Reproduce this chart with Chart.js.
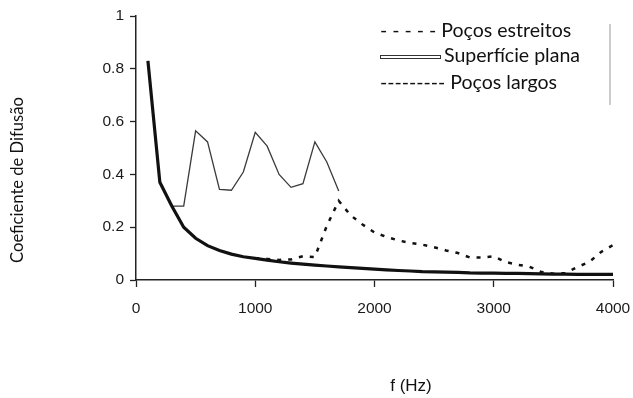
<!DOCTYPE html>
<html>
<head>
<meta charset="utf-8">
<script src="https://cdn.jsdelivr.net/npm/chart.js@4.4.0/dist/chart.umd.min.js"></script>
<style>
  body { margin: 0; background: #fff; }
  #wrap { width: 633px; height: 398px; }
</style>
</head>
<body>
<div id="wrap"><canvas id="grafico"></canvas></div>
<script>
// frequencias (Hz) e coeficientes
const freqPlana = [100, 200, 300, 400, 500, 600, 700, 800, 900, 1000,
  1100, 1200, 1300, 1400, 1500, 1600, 1700, 1800, 1900, 2000,
  2100, 2200, 2300, 2400, 2500, 2600, 2700, 2800, 2900, 3000,
  3100, 3200, 3300, 3400, 3500, 3600, 3700, 3800, 3900, 4000];
const valPlana = [0.83, 0.37, 0.28, 0.20, 0.158, 0.13, 0.112, 0.098, 0.088, 0.082,
  0.075, 0.069, 0.064, 0.060, 0.056, 0.053, 0.050, 0.047, 0.044, 0.041,
  0.038, 0.036, 0.034, 0.032, 0.031, 0.030, 0.029, 0.027, 0.026, 0.026,
  0.025, 0.025, 0.024, 0.023, 0.022, 0.022, 0.021, 0.021, 0.021, 0.021];

const freqLargos = [100, 200, 300, 400, 500, 600, 700, 800, 900, 1000,
  1100, 1200, 1300, 1400, 1500, 1600, 1700];
const valLargos = [0.83, 0.37, 0.28, 0.28, 0.565, 0.523, 0.343, 0.34, 0.409, 0.559,
  0.507, 0.40, 0.351, 0.365, 0.523, 0.447, 0.337];

const freqEstreitos = [1000, 1100, 1200, 1300, 1400, 1500, 1600, 1700, 1800, 1900,
  2000, 2100, 2200, 2300, 2400, 2500, 2600, 2700, 2800, 2900,
  3000, 3100, 3200, 3300, 3400, 3500, 3600, 3700, 3800, 3900, 4000];
const valEstreitos = [0.082, 0.08, 0.076, 0.078, 0.09, 0.087, 0.205, 0.30, 0.245, 0.21,
  0.18, 0.163, 0.15, 0.14, 0.134, 0.124, 0.112, 0.102, 0.085, 0.085,
  0.09, 0.068, 0.058, 0.05, 0.03, 0.024, 0.026, 0.049, 0.068, 0.106, 0.132];

const xTicks = [0, 1000, 2000, 3000, 4000];
const yTicks = [0, 0.2, 0.4, 0.6, 0.8, 1];

const tituloY = 'Coeficiente de Difusão';
const tituloX = 'f (Hz)';
const legendaPrefixos = ['- - - - - ', '', '--------- '];

const pares = (xs, ys) => xs.map((x, i) => ({ x: x, y: ys[i] }));

// acha o tamanho da fonte que ocupa a largura pedida
function tamanhoPara(ctx, texto, largura, familia) {
  ctx.font = '20px ' + familia;
  return 20 * largura / ctx.measureText(texto).width;
}

const decoracao = {
  id: 'decoracao',
  afterDraw(chart) {
    const ctx = chart.ctx;
    const ds = chart.data.datasets;
    ctx.save();
    ctx.fillStyle = '#111';

    // titulo do eixo Y
    const fy = tamanhoPara(ctx, tituloY, 166, 'Lato');
    ctx.save();
    ctx.translate(18, 180);
    ctx.rotate(-Math.PI / 2);
    ctx.font = fy + 'px Lato';
    ctx.textAlign = 'center';
    ctx.textBaseline = 'middle';
    ctx.fillText(tituloY, 0, 0);
    ctx.restore();

    // titulo do eixo X
    ctx.font = '17px "Liberation Sans", Arial';
    ctx.textAlign = 'center';
    ctx.textBaseline = 'middle';
    ctx.fillText(tituloX, 411, 386);

    // legenda feita de texto
    const fl = tamanhoPara(ctx, 'Poços estreitos', 130, 'Lato');
    ctx.font = fl + 'px Lato';
    ctx.textAlign = 'left';
    ctx.textBaseline = 'alphabetic';
    ctx.fillText(legendaPrefixos[0] + ds[2].label, 380, 36.5);
    ctx.fillText(legendaPrefixos[2] + ds[1].label, 380, 89);
    ctx.fillText(ds[0].label, 444, 62);
    ctx.strokeStyle = '#333';
    ctx.lineWidth = 1;
    ctx.strokeRect(380.5, 55.5, 60, 3);

    // linha cinza a direita da legenda
    ctx.strokeStyle = '#bbb';
    ctx.lineWidth = 1.5;
    ctx.beginPath();
    ctx.moveTo(610, 24);
    ctx.lineTo(610, 105);
    ctx.stroke();
    ctx.restore();
  }
};

const ctx = document.getElementById('grafico').getContext('2d');
const grafico = new Chart(ctx, {
  type: 'line',
  data: {
    datasets: [{
      label: 'Superfície plana',
      data: pares(freqPlana, valPlana),
      borderColor: '#111',
      borderWidth: 3.2,
      pointRadius: 0,
      tension: 0,
    }, {
      label: 'Poços largos',
      data: pares(freqLargos, valLargos),
      borderColor: '#3a3a3a',
      borderWidth: 1.3,
      pointRadius: 0,
      tension: 0,
    }, {
      label: 'Poços estreitos',
      data: pares(freqEstreitos, valEstreitos),
      borderColor: '#111',
      borderWidth: 2.5,
      borderDash: [4, 7],
      pointRadius: 0,
      tension: 0,
    }],
  },
  options: {
    responsive: true,
    maintainAspectRatio: false,
    animation: false,
    layout: { padding: { top: 16, right: 20, left: 0, bottom: 0 } },
    plugins: {
      legend: { display: false },
      tooltip: { enabled: false },
    },
    scales: {
      x: {
        type: 'linear',
        min: 0,
        max: 4000,
        afterFit: s => { s.height = 118; s.paddingRight = 10; },
        afterBuildTicks: s => { s.ticks = xTicks.map(v => ({ value: v })); },
        grid: { drawOnChartArea: false, tickLength: 7, color: '#222', tickWidth: 1.3 },
        border: { color: '#222', width: 1.5 },
        ticks: {
          padding: 12,
          color: '#1a1a1a',
          font: { family: '"Liberation Sans", Arial', size: 15.5 },
          maxRotation: 0,
          callback: v => String(v),
        },
      },
      y: {
        min: 0,
        max: 1,
        afterFit: s => { s.width = 136; },
        afterBuildTicks: s => { s.ticks = yTicks.map(v => ({ value: v })); },
        grid: { drawOnChartArea: false, tickLength: 6, color: '#222', tickWidth: 1.3 },
        border: { color: '#222', width: 1.5 },
        ticks: {
          padding: 6,
          color: '#1a1a1a',
          font: { family: '"Liberation Sans", Arial', size: 15.5 },
          callback: v => String(v),
        },
      },
    },
  },
  plugins: [decoracao],
});
</script>
</body>
</html>
